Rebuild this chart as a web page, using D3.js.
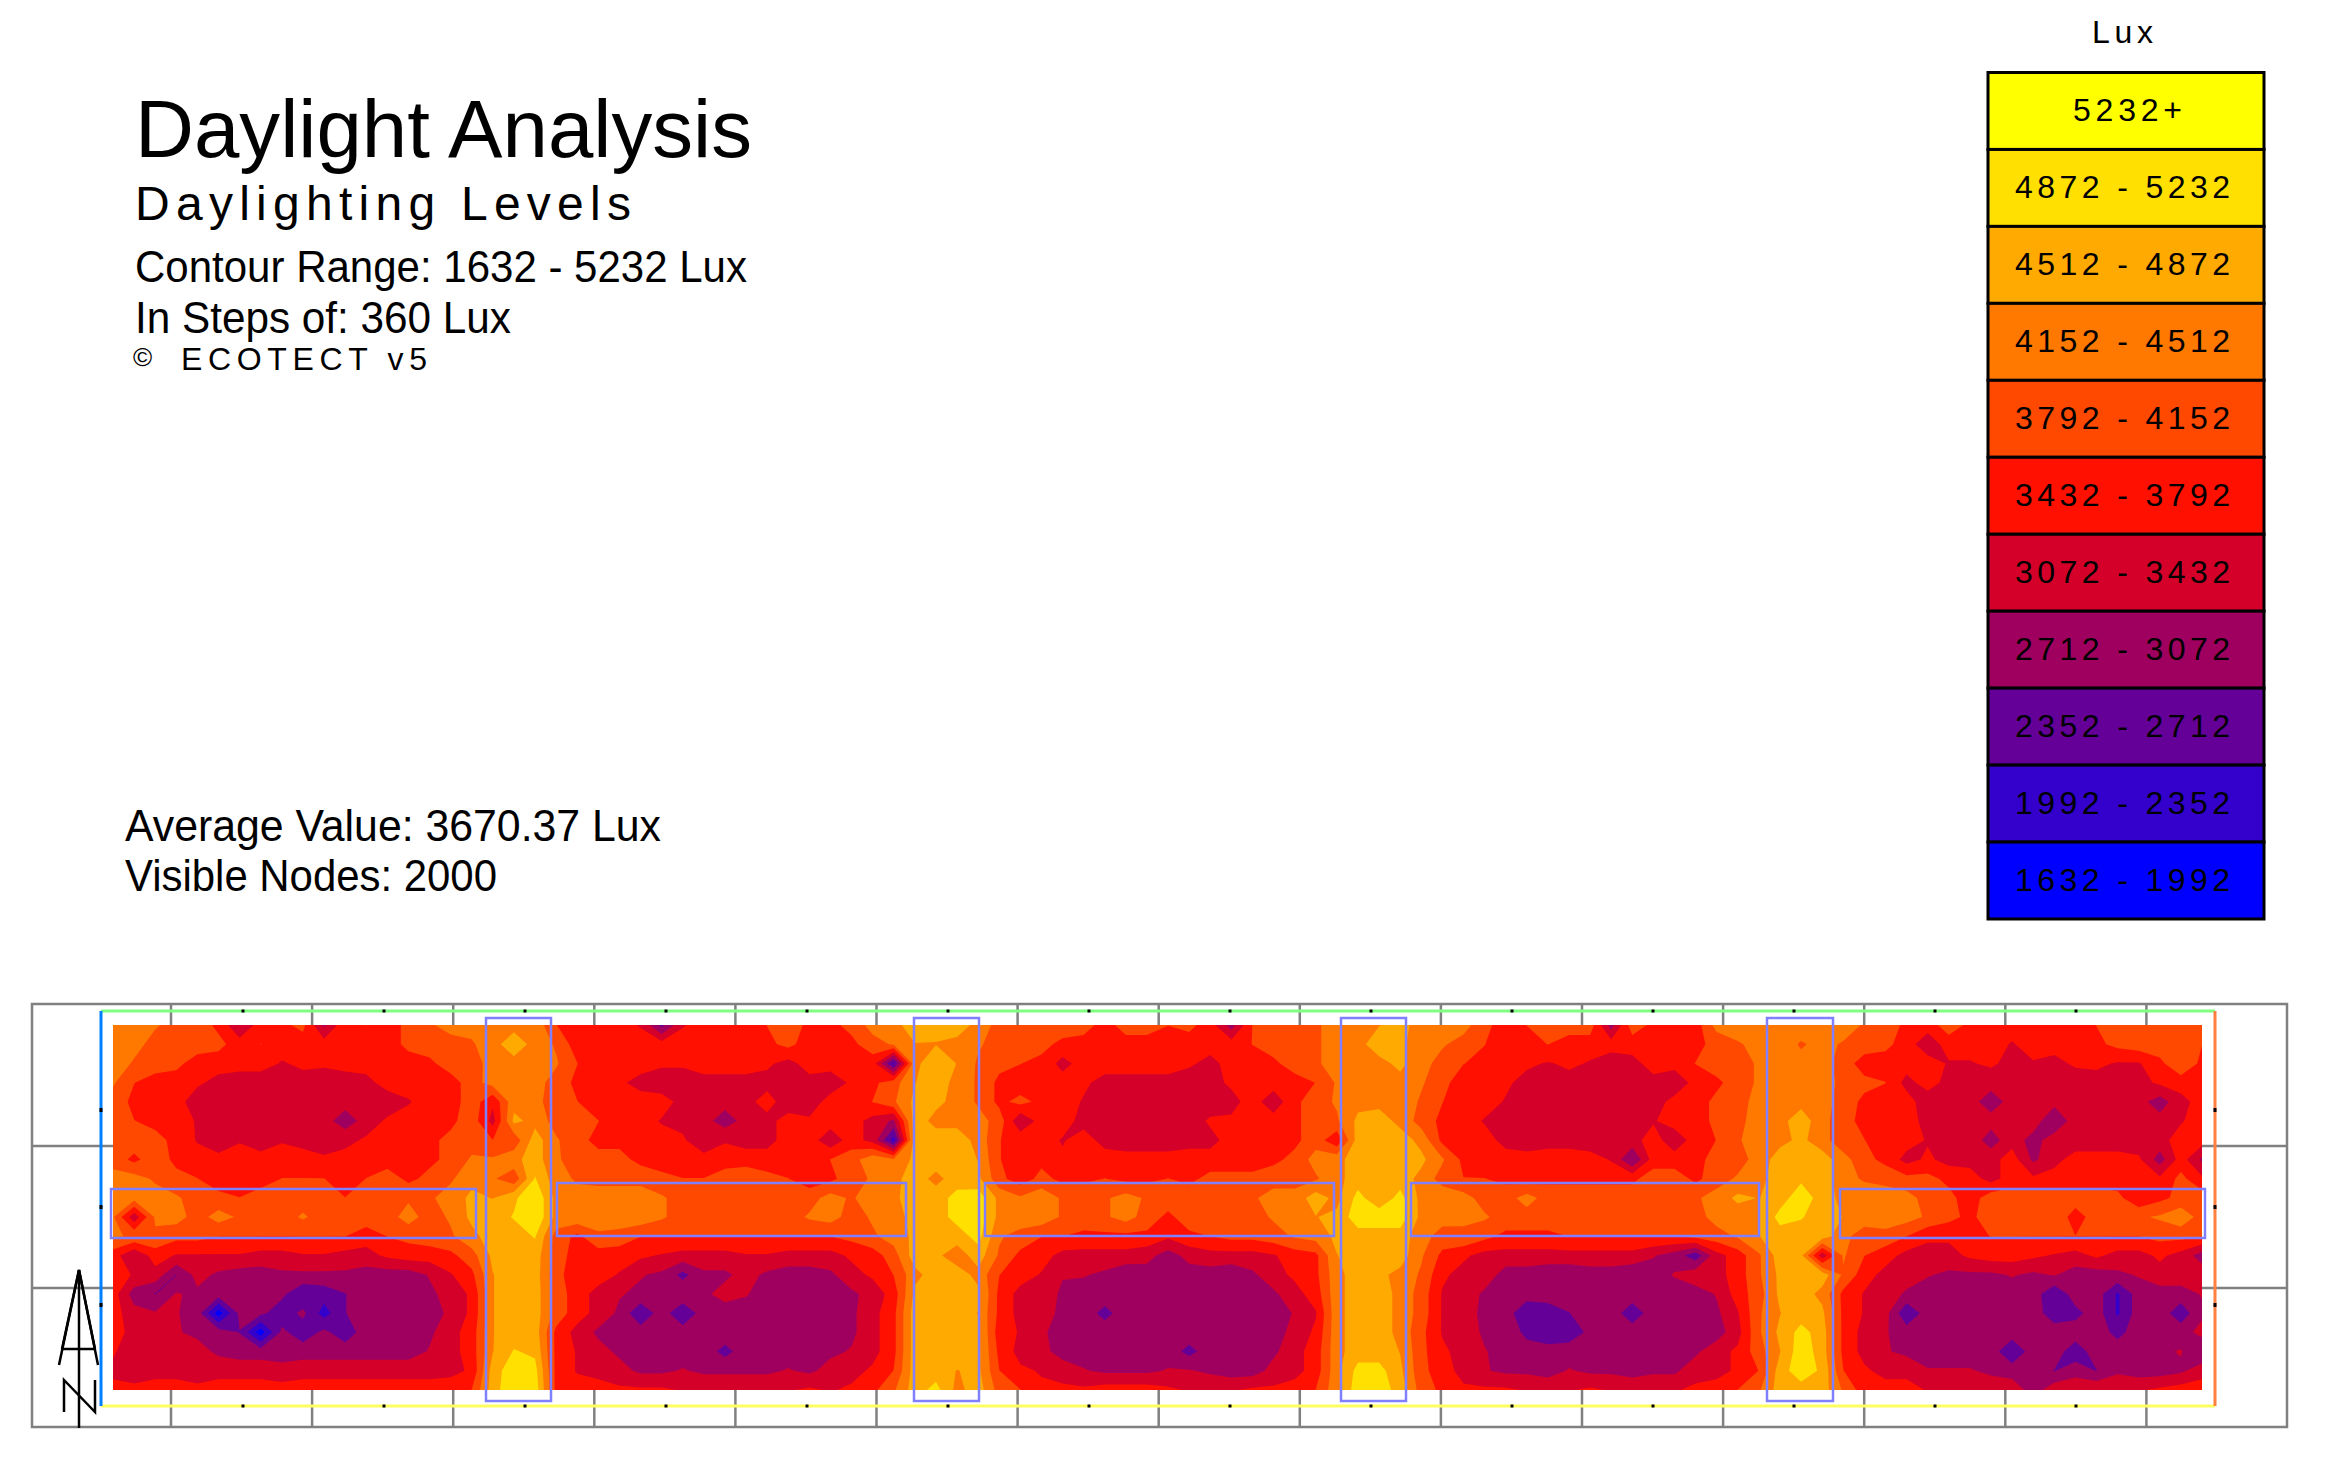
<!DOCTYPE html>
<html>
<head>
<meta charset="utf-8">
<title>Daylight Analysis</title>
<script src="https://cdn.jsdelivr.net/npm/d3@7"></script>
<style>
  body { margin: 0; background: #fff; }
  text { font-family: "Liberation Sans", Arial, sans-serif; fill: #000; }
</style>
</head>
<body>
<svg id="chart" width="2349" height="1470"></svg>
<script>
// Daylight levels, in hundreds of lux.
// 20 rows north to south, 100 nodes west to east = the 2000 visible nodes
var row00 = [43,43,42,40,40,37,31,36,37,39,30,37,38,36,39,41,43,43, 44,44,44, 38,36,36,36,34,26,34,36,36,36,38,40,37,37,39,43,44, 47,46,47,44,40, 40,40,40,40,36,40,40,38,39,36,29,38,40,40,41, 43,44,45,46,44, 44,43,39,36,38,39,40,40,29,40,37,36,36,43,44,44, 44,44,44,44, 41,40,37,36,40,37,36,36,36,36,36,38,40,40,40,40,40];
var row01 = [44,43,40,40,40,39,36,38,36,36,36,36,36,36,39,40,40,41, 44,47,44, 41,36,36,36,36,36,36,36,36,36,37,39,36,36,37,40,42, 45,45,44,42,40, 40,39,37,36,36,36,36,36,36,36,36,38,40,40,41, 43,44,47,46,43, 42,40,38,36,36,38,36,36,36,36,36,36,37,39,41,43, 44,41,43,41, 40,39,36,32,36,36,36,34,36,36,36,37,39,40,40,38,38];
var row02 = [44,41,40,39,36,36,36,36,34,35,35,36,36,36,36,37,40,41, 42,44,43, 42,38,35,36,36,35,35,36,36,36,35,33,36,36,37,36,23, 44,48,45,41,39, 38,37,33,36,36,36,36,36,35,33,36,36,37,40,41, 43,44,44,46,43, 40,38,37,36,35,34,35,34,32,33,36,36,38,40,40,42, 43,43,43,40, 36,36,36,36,34,34,35,33,34,33,35,35,34,34,37,41,37];
var row03 = [42,38,36,36,35,33,32,32,33,33,32,32,33,36,36,36,36,40, 43,44,43, 40,37,36,35,33,32,32,33,33,33,33,33,33,32,35,37,40, 45,47,44,41,37, 36,36,36,35,33,33,33,33,32,33,35,36,36,36,38, 42,44,44,44,42, 39,36,36,35,33,33,33,33,33,32,33,31,36,37,40,42, 43,44,44,40, 39,38,33,36,33,32,32,32,33,32,32,33,33,33,35,36,36];
var row04 = [40,37,36,36,32,32,32,32,32,32,32,32,32,32,34,36,36,40, 35,44,43, 39,38,36,36,36,36,33,33,32,33,36,32,32,36,36,38,41, 46,46,44,41,37, 39,37,36,34,32,32,32,32,32,32,33,36,32,37,40, 42,44,44,44,41, 38,36,36,34,33,34,33,33,33,32,32,36,36,39,40,43, 44,44,43,40, 37,36,36,32,32,32,29,32,32,32,32,33,32,32,29,33,36];
var row05 = [40,38,37,36,34,32,32,33,32,32,32,29,32,35,36,36,37,40, 33,46,44, 40,39,38,36,36,34,33,32,29,32,33,36,35,36,36,33,30, 47,44,44,43,40, 31,36,36,33,32,32,32,32,32,35,35,36,36,37,40, 41,46,47,44,40, 37,36,34,32,33,32,33,32,33,33,34,36,36,39,40,44, 44,47,43,39, 37,36,36,33,32,32,32,32,33,27,33,33,33,33,32,34,36];
var row06 = [40,40,39,37,34,33,34,32,34,33,32,33,35,36,36,37,39,40, 38,39,47, 42,39,37,37,36,36,35,31,34,33,33,36,36,32,36,33,22, 47,47,47,44,38, 37,36,34,36,33,32,32,32,33,33,36,36,36,37,40, 35,47,46,47,44, 37,36,36,33,32,33,33,32,33,33,36,32,36,38,41,44, 44,46,43,39, 38,36,36,34,32,33,29,33,29,33,32,32,32,32,33,36,36];
var row07 = [40,37,40,37,36,35,36,36,36,36,35,36,36,36,36,37,39,42, 42,44,47, 42,40,39,39,37,36,36,36,36,36,36,36,36,38,40,44,42, 46,47,47,45,38, 37,37,35,36,36,36,36,36,36,36,36,36,37,39,43, 44,47,47,47,46, 42,37,36,36,36,36,36,36,34,27,36,36,37,39,40,43, 47,47,47,43, 39,37,33,35,33,33,33,36,30,33,36,36,36,35,29,36,30];
var row08 = [43,43,41,39,38,36,36,36,38,38,38,36,38,40,37,39,41,44, 42,39,49, 43,41,40,40,40,39,38,38,40,41,39,38,36,37,40,42,44, 47,44,47,46,39, 36,39,37,37,38,37,37,38,37,39,39,39,40,40,41, 44,47,47,47,44, 40,38,38,37,36,37,37,37,37,37,40,40,37,40,42,44, 47,48,47,43, 41,40,39,39,37,36,33,36,35,36,36,36,36,36,35,39,35];
var row09 = [44,43,43,42,40,39,38,40,40,40,40,38,40,40,41,41,43,46, 45,48,52, 44,43,44,44,44,42,40,40,40,40,40,40,40,43,41,44,44, 48,47,50,51,44, 42,44,41,41,41,43,41,40,40,40,40,41,43,43,47, 44,50,46,50,44, 44,43,40,40,43,40,40,40,40,40,40,40,41,43,46,45, 47,51,47,44, 44,44,43,40,39,36,40,40,40,40,40,40,39,35,37,39,40];
var row10 = [42,32,42,43,40,43,41,40,40,42,40,40,40,40,43,40,42,46, 47,49,52, 44,44,43,44,44,42,40,40,40,40,40,40,42,43,40,42,43, 47,47,50,51,44, 44,44,41,40,41,43,40,37,40,40,40,40,42,43,45, 46,51,51,51,44, 43,42,42,40,40,40,40,40,40,40,40,40,40,43,43,45, 50,49,47,45, 44,44,43,41,39,37,40,40,40,41,36,40,40,41,42,44,40];
var row11 = [42,41,41,39,39,38,38,38,38,38,38,38,36,38,39,40,41,44, 47,47,49, 40,37,41,40,38,38,38,38,38,38,38,38,38,38,39,41,43, 46,47,47,50,42, 40,38,38,37,37,37,37,35,37,38,39,39,40,42,43, 46,47,47,47,43, 40,41,39,37,37,37,38,38,38,38,38,38,39,40,42,45, 47,47,47,43, 39,40,38,35,35,37,38,38,38,38,38,38,38,38,39,39,38];
var row12 = [36,31,36,34,34,34,34,33,33,34,34,33,33,35,36,36,37,40, 46,47,47, 40,36,36,36,35,34,33,33,33,34,34,33,33,33,35,36,40, 47,46,43,47,41, 37,36,33,33,33,33,32,29,32,33,33,33,34,36,37, 45,47,47,47,42, 37,35,33,33,33,33,33,33,33,33,31,29,25,33,36,41, 47,46,32,42, 38,36,33,33,33,35,36,36,35,34,33,35,33,33,35,33,29];
var row13 = [36,34,33,27,32,30,29,29,30,30,30,30,29,29,29,31,34,37, 45,47,47, 39,36,36,34,31,30,26,30,30,32,30,29,29,30,33,35,38, 44,47,47,44,38, 36,34,31,31,30,28,29,28,29,29,28,30,33,35,37, 44,47,46,44,41, 35,33,33,29,29,28,28,29,29,28,29,31,33,33,36,41, 46,47,47,41, 36,33,33,31,30,30,30,31,30,31,29,29,30,31,33,33,33];
var row14 = [36,29,27,31,30,29,29,29,28,24,25,27,29,29,29,30,32,35, 45,47,47, 40,36,33,31,30,29,30,30,32,31,29,29,29,29,30,32,36, 46,47,47,46,37, 33,33,30,29,29,29,29,29,29,29,29,29,30,33,36, 44,47,47,44,40, 34,33,30,29,29,29,29,29,29,29,29,29,29,31,36,40, 46,47,44,37, 34,33,30,29,29,29,29,29,29,24,29,29,23,29,29,29,31];
var row15 = [36,32,31,31,29,18,28,28,25,28,22,27,29,29,29,28,32,35, 45,47,47, 40,36,33,30,24,29,24,29,29,29,29,29,29,29,30,33,37, 47,47,47,45,37, 33,32,30,29,26,29,29,29,29,29,29,29,29,31,34, 44,47,47,44,40, 34,32,30,29,24,25,27,29,29,25,29,29,29,30,34,41, 45,47,46,37, 34,32,24,29,29,29,29,29,29,25,26,29,23,29,29,25,30];
var row16 = [36,33,32,31,30,29,27,18,28,25,28,25,29,29,29,30,33,36, 45,47,47, 37,33,30,29,29,29,29,29,29,29,29,29,29,29,30,33,37, 47,47,47,46,36, 34,31,30,29,29,29,29,29,29,29,29,29,29,32,35, 44,47,47,44,39, 34,33,30,30,26,24,25,28,29,29,29,29,29,29,33,41, 46,50,47,37, 33,31,29,29,29,29,29,29,29,29,29,29,26,29,29,29,32];
var row17 = [35,31,33,33,32,30,29,29,29,29,29,29,29,29,29,31,33,36, 45,49,48, 37,34,32,30,29,29,29,29,26,29,29,29,29,30,31,33,37, 47,47,47,46,37, 33,32,29,29,29,29,29,29,26,29,29,29,30,33,36, 44,47,47,45,39, 35,33,31,29,29,29,29,29,29,29,29,29,30,33,35,40, 45,51,47,37, 33,31,30,29,29,29,29,24,29,29,25,29,29,29,30,31,27];
var row18 = [33,31,33,33,33,33,33,33,32,33,33,33,33,33,33,33,33,35, 47,51,50, 37,34,33,32,30,30,31,30,30,30,30,31,30,32,33,35,38, 47,47,45,46,38, 35,34,33,31,30,30,30,31,31,30,29,29,32,33,36, 44,50,50,46,39, 36,33,31,30,30,29,31,30,30,29,30,30,33,33,35,38, 47,51,48,38, 35,33,33,31,31,31,30,29,29,27,29,27,30,29,29,30,33];
var row19 = [36,36,36,36,35,36,36,36,36,36,36,36,36,36,36,36,37,38, 47,52,51, 37,36,36,35,35,35,34,34,34,34,34,34,35,34,35,37,41, 47,50,44,47,40, 38,35,35,35,36,36,36,35,34,34,34,35,35,36,38, 44,51,51,47,40, 37,35,35,35,34,34,34,35,34,34,34,34,35,36,38,41, 47,47,47,41, 36,36,36,34,34,34,33,33,29,33,34,34,34,34,35,36,36];

// contour steps in lux, low to high
var luxSteps = [1632, 1992, 2352, 2712, 3072, 3432, 3792, 4152, 4512, 4872, 5232];
var stepColors = ["#0000ff", "#3300cc", "#640098", "#9f005f", "#d40029", "#ff1000", "#ff4800", "#ff7800", "#ffaa00", "#ffe000", "#ffff00"];
var legendLabels = ["5232+", "4872 - 5232", "4512 - 4872", "4152 - 4512", "3792 - 4152", "3432 - 3792", "3072 - 3432", "2712 - 3072", "2352 - 2712", "1992 - 2352", "1632 - 1992"];

var grid = [row00, row01, row02, row03, row04, row05, row06, row07, row08, row09,
            row10, row11, row12, row13, row14, row15, row16, row17, row18, row19];
var cols = row00.length;
var rows = grid.length;
var values = d3.merge(grid).map(function(v) { return v * 100; });

var svg = d3.select("#chart");

// Heading text
// --------------------------------------------
function addText(label, x, y, size, length) {
  var t = svg.append("text").attr("x", x).attr("y", y).attr("font-size", size).text(label);
  if (length) t.attr("textLength", length).attr("lengthAdjust", "spacingAndGlyphs");
  return t;
}
addText("Daylight Analysis", 135, 157, 82, 617);
addText("Daylighting Levels", 135, 220, 48, 496).attr("lengthAdjust", "spacing");
addText("Contour Range: 1632 - 5232 Lux", 135, 282, 45, 612);
addText("In Steps of: 360 Lux", 135, 333, 45, 376);
addText("\u00a9", 133, 366, 26);
addText("ECOTECT v5", 181, 370, 32, 246).attr("lengthAdjust", "spacing");
addText("Average Value: 3670.37 Lux", 125, 841, 45, 536);
addText("Visible Nodes: 2000", 125, 891, 45, 372);

// Legend
// --------------------------------------------
var legendY = d3.scaleBand().domain(legendLabels).range([72.5, 919]);
var legendX = 1988, legendW = 276;
addText("Lux", 2092, 43, 32, 61).attr("lengthAdjust", "spacing");

var legendRows = svg.append("g").selectAll("g").data(legendLabels).enter().append("g");
legendRows.append("rect")
  .attr("x", legendX)
  .attr("y", function(d) { return legendY(d); })
  .attr("width", legendW)
  .attr("height", legendY.bandwidth())
  .attr("fill", function(d, i) { return stepColors[stepColors.length - 1 - i]; })
  .attr("stroke", "#000")
  .attr("stroke-width", 3);
legendRows.append("text")
  .attr("x", function(d, i) { return i == 0 ? 2073 : 2015; })
  .attr("y", function(d) { return legendY(d) + legendY.bandwidth() / 2 + 10; })
  .attr("font-size", 32)
  .attr("textLength", function(d, i) { return i == 0 ? 109 : 215; })
  .attr("lengthAdjust", "spacing")
  .text(function(d) { return d; });

// Background grid
// --------------------------------------------
var frame = { left: 32, right: 2287, top: 1004, bottom: 1427 };
var gridLinesX = d3.range(15).map(function(i) { return 171 + 141.1 * i; });
var gridLinesY = [1146, 1288];
var back = svg.append("g").attr("stroke", "#808080").attr("stroke-width", 2.5).attr("fill", "none");
back.append("rect")
  .attr("x", frame.left).attr("y", frame.top)
  .attr("width", frame.right - frame.left).attr("height", frame.bottom - frame.top);
back.selectAll(".gx").data(gridLinesX).enter().append("line")
  .attr("x1", function(d) { return d; }).attr("x2", function(d) { return d; })
  .attr("y1", frame.top).attr("y2", frame.bottom);
back.selectAll(".gy").data(gridLinesY).enter().append("line")
  .attr("x1", frame.left).attr("x2", frame.right)
  .attr("y1", function(d) { return d; }).attr("y2", function(d) { return d; });

// Contours
// --------------------------------------------
var plot = { left: 113, right: 2202, top: 1025, bottom: 1390 };

// d3.contours puts node i at i + 0.5
var xScale = d3.scaleLinear().domain([0.5, cols - 0.5]).range([plot.left, plot.right]);
var yScale = d3.scaleLinear().domain([0.5, rows - 0.5]).range([plot.top, plot.bottom]);
var color = d3.scaleOrdinal().domain(luxSteps).range(stepColors);

var contours = d3.contours().size([cols, rows]).thresholds(luxSteps)(values);
var path = d3.geoPath(d3.geoTransform({
  point: function(x, y) { this.stream.point(xScale(x), yScale(y)); }
}));

svg.append("clipPath").attr("id", "plotClip").append("rect")
  .attr("x", plot.left).attr("y", plot.top)
  .attr("width", plot.right - plot.left).attr("height", plot.bottom - plot.top);

svg.append("g").attr("clip-path", "url(#plotClip)")
  .selectAll("path").data(contours).enter().append("path")
  .attr("d", path)
  .attr("fill", function(d) { return color(d.value); });

// Analysis grid outline
// --------------------------------------------
var outline = { left: 101, right: 2215, top: 1011, bottom: 1406 };
var edges = svg.append("g").attr("stroke-width", 3);
edges.append("line").attr("x1", outline.left).attr("x2", outline.right).attr("y1", outline.top).attr("y2", outline.top).attr("stroke", "#80ff80");
edges.append("line").attr("x1", outline.left).attr("x2", outline.right).attr("y1", outline.bottom).attr("y2", outline.bottom).attr("stroke", "#ffff60");
edges.append("line").attr("x1", outline.left).attr("x2", outline.left).attr("y1", outline.top).attr("y2", outline.bottom).attr("stroke", "#0080ff");
edges.append("line").attr("x1", outline.right).attr("x2", outline.right).attr("y1", outline.top).attr("y2", outline.bottom).attr("stroke", "#ff8040");

var tickX = d3.range(1, 15).map(function(i) { return 102 + 141 * i; });
var tickY = [1110, 1207, 1305];
var marks = svg.append("g").attr("fill", "#000");
tickX.forEach(function(x) {
  marks.append("rect").attr("x", x - 1.5).attr("y", outline.top - 1.5).attr("width", 3).attr("height", 3);
  marks.append("rect").attr("x", x - 1.5).attr("y", outline.bottom - 1.5).attr("width", 3).attr("height", 3);
});
tickY.forEach(function(y) {
  marks.append("rect").attr("x", outline.left - 1.5).attr("y", y - 2).attr("width", 3).attr("height", 4);
  marks.append("rect").attr("x", outline.right - 1.5).attr("y", y - 2).attr("width", 3).attr("height", 4);
});

// Building members
// --------------------------------------------
var memberBoxes = [
  [486, 1018, 551, 1401], [914, 1018, 979, 1401], [1341, 1018, 1406, 1401], [1767, 1018, 1833, 1401],
  [111, 1189, 476, 1238], [557, 1183, 906, 1236], [985, 1183, 1334, 1236], [1411, 1183, 1759, 1236], [1840, 1189, 2205, 1238]
];
svg.append("g").selectAll("rect").data(memberBoxes).enter().append("rect")
  .attr("x", function(d) { return d[0]; })
  .attr("y", function(d) { return d[1]; })
  .attr("width", function(d) { return d[2] - d[0]; })
  .attr("height", function(d) { return d[3] - d[1]; })
  .attr("fill", "none")
  .attr("stroke", "#8080ff")
  .attr("stroke-width", 2.5);

// North arrow
// --------------------------------------------
var north = svg.append("g").attr("fill", "none").attr("stroke", "#000").attr("stroke-width", 2.5);
north.append("path").attr("d", "M59,1365L79,1270L98,1365");
north.append("path").attr("d", "M62,1349L79,1270L95,1349");
north.append("path").attr("d", "M61,1349H94");
north.append("path").attr("d", "M79,1270V1428");
north.append("path").attr("d", "M64,1412V1380L95,1412V1380");
</script>
</body>
</html>
